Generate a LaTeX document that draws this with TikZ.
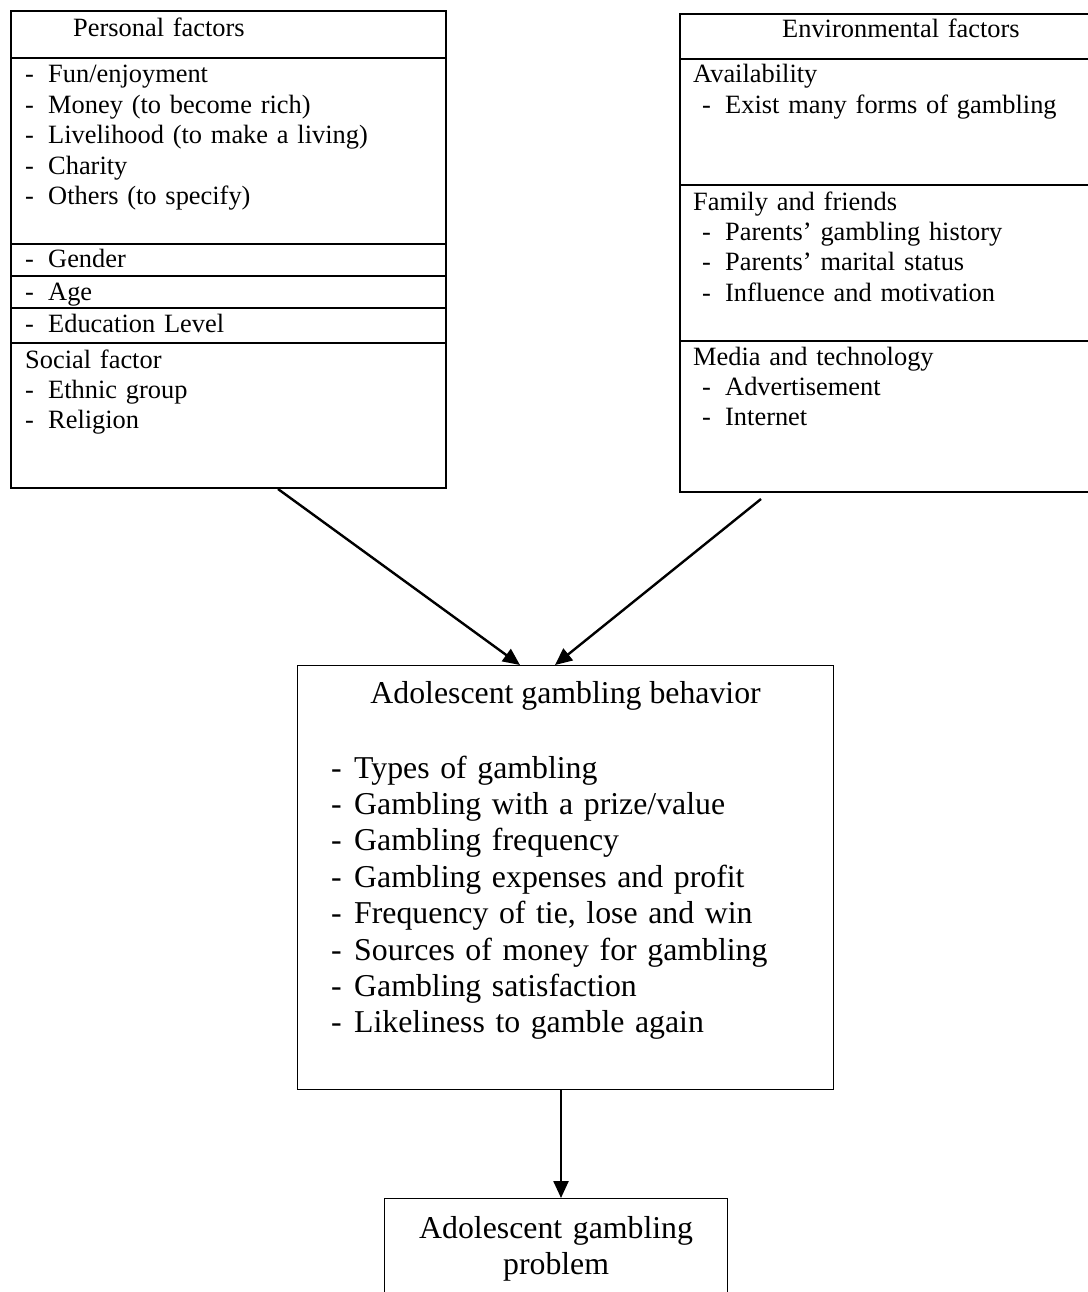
\documentclass[tikz,border=0pt]{standalone}
\usepackage{fontspec}
\setmainfont{Liberation Serif}
\usetikzlibrary{calc,arrows.meta,positioning}

\tikzset{
  frame/.style={draw, line width=2pt, inner sep=0pt, anchor=north west},
  thinframe/.style={draw, line width=1.2pt, inner sep=0pt, anchor=north west},
  small/.style={font=\fontsize{26.4}{30.4}\selectfont, anchor=base west, inner sep=0pt, align=left, text width=400pt},
  big/.style={font=\fontsize{31.8}{36.4}\selectfont, anchor=base west, inner sep=0pt, align=left, text width=480pt},
  arr/.style={line width=2.4pt, -{Triangle[length=17pt,width=15pt]}}
}

\begin{document}
\begin{tikzpicture}[x=1pt,y=-1pt]
\useasboundingbox (0,0) rectangle (1087,1292);
\def\itm{\makebox[23pt][l]{-}}
% boxes
\node[frame, minimum width=435pt, minimum height=477pt] (personal) at (10,10) {};
\node[frame, minimum width=420pt, minimum height=478pt] (environ) at (679,13) {};
\node[thinframe, minimum width=536pt, minimum height=424pt] (behavior) at (297,665) {};
\node[thinframe, minimum width=343pt, minimum height=150pt] (problem) at (384,1198) {};
% dividers
\draw[line width=2pt] (personal.west |- 0,58) -- (personal.east |- 0,58);
\draw[line width=2pt] (personal.west |- 0,244) -- (personal.east |- 0,244);
\draw[line width=2pt] (personal.west |- 0,276) -- (personal.east |- 0,276);
\draw[line width=2pt] (personal.west |- 0,308) -- (personal.east |- 0,308);
\draw[line width=2pt] (personal.west |- 0,343) -- (personal.east |- 0,343);
\draw[line width=2pt] (environ.west |- 0,59) -- (environ.east |- 0,59);
\draw[line width=2pt] (environ.west |- 0,185) -- (environ.east |- 0,185);
\draw[line width=2pt] (environ.west |- 0,341) -- (environ.east |- 0,341);
% personal factors
\node[small] (phead) at (73,37) {Personal factors};
\node[small] (pmotive) at (25,83) {\itm Fun/enjoyment\\ \itm Money (to become rich)\\ \itm Livelihood (to make a living)\\ \itm Charity\\ \itm Others (to specify)};
\node[small] (pgender) at (25,267) {\itm Gender};
\node[small] (page) at (25,300) {\itm Age};
\node[small] (pedu) at (25,332) {\itm Education Level};
\node[small] (psocial) at (25,368) {Social factor\\ \itm Ethnic group\\ \itm Religion};
% environmental factors
\node[small] (ehead) at (782,38) {Environmental factors};
\node[small] (eavail) at (693,83) {Availability\\ \hspace*{9pt}\itm Exist many forms of gambling};
\node[small] (efamily) at (693,210) {Family and friends\\ \hspace*{9pt}\itm Parents’ gambling history\\ \hspace*{9pt}\itm Parents’ marital status\\ \hspace*{9pt}\itm Influence and motivation};
\node[small] (emedia) at (693,365) {Media and technology\\ \hspace*{9pt}\itm Advertisement\\ \hspace*{9pt}\itm Internet};
% behavior
\node[big, anchor=base, text width=] (bhead) at (behavior.north |- 0,703) {Adolescent gambling behavior};
\node[big] (blist) at (331,778) {\itm Types of gambling\\ \itm Gambling with a prize/value\\ \itm Gambling frequency\\ \itm Gambling expenses and profit\\ \itm Frequency of tie, lose and win\\ \itm Sources of money for gambling\\ \itm Gambling satisfaction\\ \itm Likeliness to gamble again};
% problem
\node[big, anchor=base, align=center, text width=330pt] (ptext) at (problem.north |- 0,1238) {Adolescent gambling\\ problem};
% arrows
\draw[arr] (personal.south -| 278,0) -- (behavior.north -| 520,0);
\draw[arr] ([yshift=-6pt]environ.south -| 761,0) -- (behavior.north -| 555,0);
\draw[arr] (behavior.south -| 561,0) -- (problem.north -| 561,0);
\end{tikzpicture}
\end{document}
